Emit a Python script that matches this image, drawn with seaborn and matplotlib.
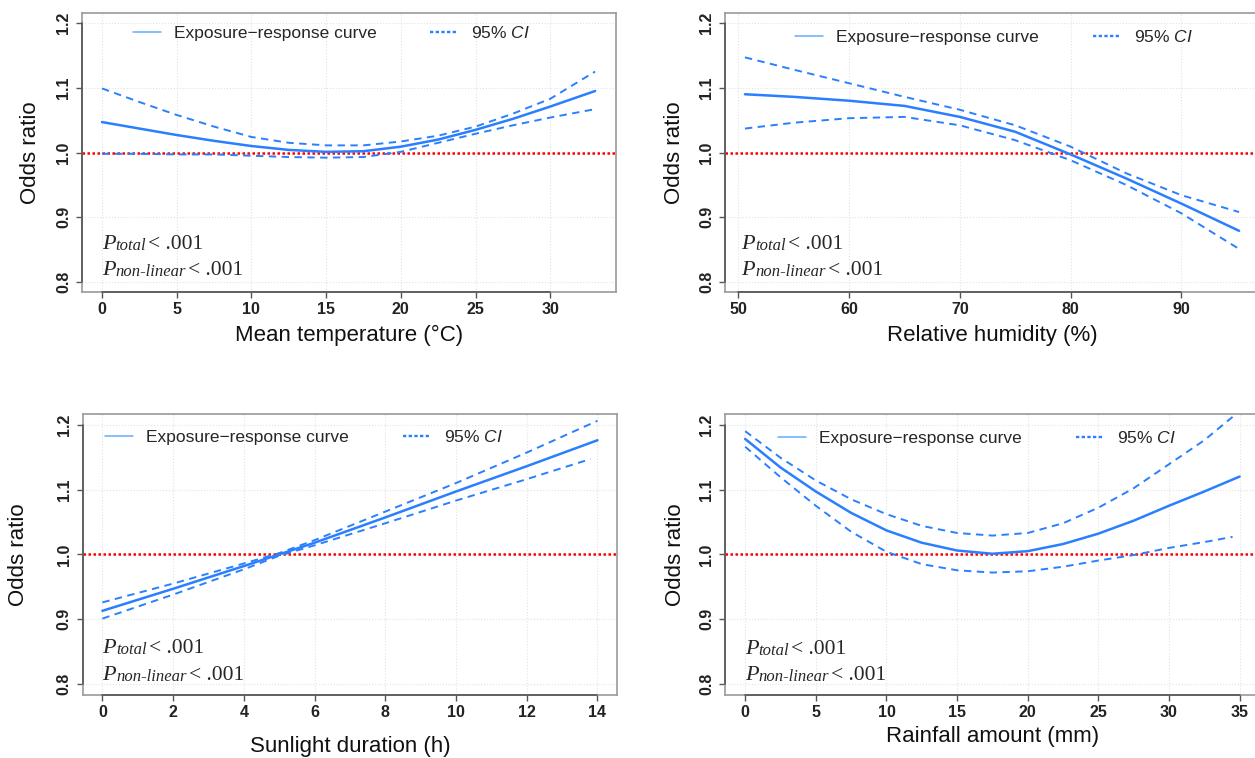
import matplotlib
matplotlib.use("Agg")
import matplotlib.pyplot as plt
import seaborn as sns
from matplotlib import font_manager

sns.set_style("white")
plt.rcParams['font.family'] = ['Liberation Sans', 'DejaVu Sans']
plt.rcParams['mathtext.fontset'] = 'custom'
plt.rcParams['mathtext.it'] = 'Liberation Sans:italic'
plt.rcParams['mathtext.rm'] = 'Liberation Sans'

# --- values ---
temp_x = [0, 2.5, 5, 7.5, 10, 12.5, 15, 17.5, 20, 22.5, 25, 27.5, 30, 33]
temp_or = [1.047, 1.037, 1.027, 1.018, 1.010, 1.004, 1.001, 1.002, 1.009, 1.020, 1.035, 1.052, 1.071, 1.095]
temp_hi = [1.099, 1.078, 1.058, 1.040, 1.024, 1.015, 1.011, 1.011, 1.017, 1.026, 1.040, 1.060, 1.083, 1.125]
temp_lo = [0.998, 0.998, 0.997, 0.997, 0.995, 0.993, 0.992, 0.993, 1.001, 1.015, 1.029, 1.042, 1.054, 1.067]

hum_x = [50.6, 55, 60, 65, 70, 75, 80, 85, 90, 95.2]
hum_or = [1.090, 1.086, 1.080, 1.072, 1.055, 1.032, 0.997, 0.960, 0.921, 0.879]
hum_hi = [1.147, 1.128, 1.107, 1.086, 1.066, 1.042, 1.009, 0.968, 0.934, 0.908]
hum_lo = [1.037, 1.046, 1.053, 1.055, 1.042, 1.019, 0.988, 0.950, 0.906, 0.851]

sun_x = [0, 2, 4, 5, 6, 8, 10, 12, 14]
sun_or = [0.913, 0.947, 0.982, 1.000, 1.018, 1.057, 1.097, 1.136, 1.176]
sun_hi = [0.926, 0.955, 0.986, 1.002, 1.022, 1.066, 1.110, 1.157, 1.206]
sun_lo_x = [0, 2, 4, 5, 6, 8, 10, 12, 13.8]
sun_lo = [0.901, 0.938, 0.977, 0.998, 1.014, 1.048, 1.083, 1.116, 1.147]

rain_x = [0, 2.5, 5, 7.5, 10, 12.5, 15, 17.5, 20, 22.5, 25, 27.5, 30, 32.5, 35]
rain_or = [1.178, 1.134, 1.097, 1.064, 1.037, 1.018, 1.006, 1.001, 1.005, 1.016, 1.032, 1.052, 1.075, 1.097, 1.120]
rain_ci_x = [0, 2.5, 5, 7.5, 10, 12.5, 15, 17.5, 20, 22.5, 25, 27.5, 30, 32.5, 34.5]
rain_hi = [1.190, 1.149, 1.114, 1.085, 1.062, 1.044, 1.033, 1.029, 1.033, 1.048, 1.072, 1.102, 1.139, 1.176, 1.212]
rain_lo = [1.166, 1.119, 1.075, 1.035, 1.004, 0.985, 0.9755, 0.972, 0.974, 0.981, 0.9905, 0.999, 1.010, 1.019, 1.027]

y_ticks = [0.8, 0.9, 1.0, 1.1, 1.2]
y_tick_labels = ["0.8", "0.9", "1.0", "1.1", "1.2"]

names = {f.name for f in font_manager.fontManager.ttflist}
TICK_FONT = 'Liberation Sans Narrow' if 'Liberation Sans Narrow' in names else 'Liberation Sans'
TICK_SIZE = 12.5 if TICK_FONT == 'Liberation Sans Narrow' else 11.5

CURVE = "#2a7fff"
LEG_SOLID = "#64aaff"
W, H = 1255, 758


def rect(left, top, w, h):
    return [left / W, 1 - (top + h) / H, w / W, h / H]


def p_label(ax, x, y, sub):
    t1 = ax.text(x, y, "P", transform=ax.transAxes, family="Liberation Serif",
                 style="italic", fontsize=16, va="baseline", ha="left")
    t2 = ax.annotate(sub, xy=(1, 0), xycoords=t1, va="bottom", ha="left",
                     family="Liberation Serif", style="italic", fontsize=12)
    ax.annotate("< .001", xy=(1, 0), xycoords=t2, xytext=(1.5, 0),
                textcoords="offset points", va="bottom", ha="left",
                family="Liberation Serif", fontsize=15.5)


def draw_panel(ax, x, y, x_hi, hi, x_lo, lo, xlim, xticks, xlabel,
               leg_xy, p_x, p_y, xlab_y, ylab_x):
    ax.grid(True, color="#e2e2e2", linestyle=":", linewidth=0.8)
    ax.axhline(1.0, color="#ff0000", linestyle=(0, (1, 1)), linewidth=1.8, zorder=2)
    sns.lineplot(x=x_hi, y=hi, ax=ax, color=CURVE, linewidth=1.4,
                 linestyle=(0, (3.8, 2.8)), sort=False, estimator=None, zorder=3)
    sns.lineplot(x=x_lo, y=lo, ax=ax, color=CURVE, linewidth=1.4,
                 linestyle=(0, (3.8, 2.8)), sort=False, estimator=None, zorder=3)
    sns.lineplot(x=x, y=y, ax=ax, color=CURVE, linewidth=1.8, sort=False,
                 estimator=None, zorder=4)

    ax.set_xlim(*xlim)
    ax.set_ylim(0.784, 1.216)
    ax.set_xticks(xticks)
    ax.set_xticklabels([str(t) for t in xticks])
    ax.set_yticks(y_ticks)
    ax.set_yticklabels(y_tick_labels)
    ax.tick_params(axis="both", direction="out", length=4.3, width=1,
                   color="#555555", labelcolor="#222222", left=True, bottom=True)
    ax.tick_params(axis="x", pad=3.0)
    ax.tick_params(axis="y", pad=3.6)
    for lab in ax.get_xticklabels():
        lab.set_fontfamily(TICK_FONT)
        lab.set_fontweight("bold")
        lab.set_fontsize(TICK_SIZE)
    for lab in ax.get_yticklabels():
        lab.set_fontfamily(TICK_FONT)
        lab.set_fontweight("bold")
        lab.set_fontsize(TICK_SIZE)
        lab.set_rotation(90)
        lab.set_va("center")

    for sp in ax.spines.values():
        sp.set_color("#9a9a9a")
        sp.set_linewidth(1.2)
    # R style axis lines from first to last tick
    ax.plot([xticks[0], xticks[-1]], [0, 0], transform=ax.get_xaxis_transform(),
            color="#555555", linewidth=1.2, clip_on=False, zorder=5)
    ax.plot([0, 0], [y_ticks[0], y_ticks[-1]], transform=ax.get_yaxis_transform(),
            color="#555555", linewidth=1.2, clip_on=False, zorder=5)

    ax.set_xlabel(xlabel, fontsize=16, color="#111111")
    ax.xaxis.label.set_va("center")
    ax.xaxis.set_label_coords(0.5, xlab_y)
    ax.set_ylabel("Odds ratio", fontsize=16, color="#111111")
    ax.yaxis.label.set_va("center")
    ax.yaxis.set_label_coords(ylab_x, 0.5)

    h_solid = plt.Line2D([], [], color=LEG_SOLID, linewidth=1.1)
    h_dot = plt.Line2D([], [], color=CURVE, linewidth=1.7, linestyle=(0, (1.4, 1.0)))
    ax.legend([h_solid, h_dot], ["Exposure\u2212response curve", "95% $\\mathit{CI}$"],
              loc="center left", bbox_to_anchor=leg_xy, ncol=2, frameon=False,
              fontsize=12.5, handlelength=1.61, handletextpad=0.75,
              columnspacing=3.1, borderpad=0, borderaxespad=0)

    p_label(ax, p_x, p_y[0], "total")
    p_label(ax, p_x, p_y[1], "non-linear")


fig = plt.figure(figsize=(12.55, 7.58), dpi=100)
ax1 = fig.add_axes(rect(82, 12.7, 534, 279.6))
ax2 = fig.add_axes(rect(725, 12.7, 534, 279.6))
ax3 = fig.add_axes(rect(82.6, 414.3, 534.7, 280.2))
ax4 = fig.add_axes(rect(725.4, 414.3, 534, 280.2))

draw_panel(ax1, temp_x, temp_or, temp_x, temp_hi, temp_x, temp_lo,
           (-1.34, 34.4), [0, 5, 10, 15, 20, 25, 30], "Mean temperature (\u00b0C)",
           (0.0948, 0.926), 0.0369, (0.1538, 0.0619), -0.153, -0.096)
draw_panel(ax2, hum_x, hum_or, hum_x, hum_hi, hum_x, hum_lo,
           (48.8, 97.0), [50, 60, 70, 80, 90], "Relative humidity (%)",
           (0.1318, 0.914), 0.0311, (0.1538, 0.0619), -0.153, -0.094)
draw_panel(ax3, sun_x, sun_or, sun_x, sun_hi, sun_lo_x, sun_lo,
           (-0.56, 14.56), [0, 2, 4, 6, 8, 10, 12, 14], "Sunlight duration (h)",
           (0.0419, 0.920), 0.037, (0.147, 0.0517), -0.186, -0.119)
draw_panel(ax4, rain_x, rain_or, rain_ci_x, rain_hi, rain_ci_x, rain_lo,
           (-1.4, 36.4), [0, 5, 10, 15, 20, 25, 30, 35], "Rainfall amount (mm)",
           (0.0985, 0.914), 0.0367, (0.1445, 0.0517), -0.150, -0.094)

fig.savefig("out.png", dpi=100)
